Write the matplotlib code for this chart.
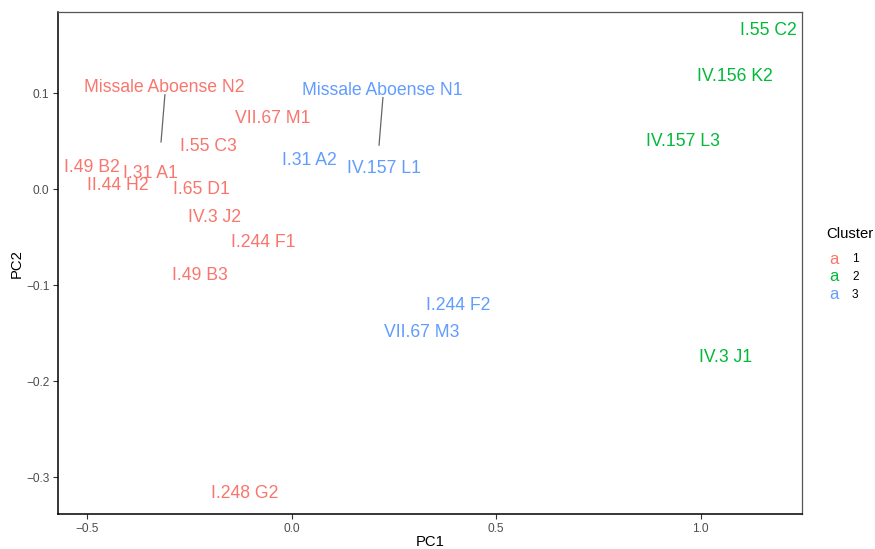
import matplotlib
matplotlib.use("Agg")
import matplotlib.pyplot as plt

# Sample labels, cluster, and (label) positions on PC1/PC2
labels = ["Missale Aboense N2", "VII.67 M1", "I.55 C3", "I.49 B2", "I.31 A1",
          "II.44 H2", "I.65 D1", "IV.3 J2", "I.244 F1", "I.49 B3", "I.248 G2",
          "Missale Aboense N1", "I.31 A2", "IV.157 L1", "I.244 F2", "VII.67 M3",
          "I.55 C2", "IV.156 K2", "IV.157 L3", "IV.3 J1"]
cluster = [1, 1, 1, 1, 1, 1, 1, 1, 1, 1, 1,
           3, 3, 3, 3, 3,
           2, 2, 2, 2]
pc1 = [-0.310, -0.047, -0.203, -0.488, -0.345, -0.425, -0.219, -0.188, -0.068, -0.225, -0.114,
       0.223, 0.0445, 0.227, 0.408, 0.318,
       1.166, 1.085, 0.958, 1.062]
pc2 = [0.108, 0.0756, 0.0472, 0.0246, 0.019, 0.0062, 0.0017, -0.0268, -0.0535, -0.088, -0.315,
       0.1055, 0.0323, 0.0235, -0.1187, -0.1466,
       0.1677, 0.120, 0.0514, -0.1726]
# repel segments: label -> original point
seg_labels = ["Missale Aboense N2", "Missale Aboense N1"]
seg_x0 = [-0.3095, 0.2235]
seg_y0 = [0.0985, 0.0955]
seg_x1 = [-0.319, 0.214]
seg_y1 = [0.0493, 0.046]

cluster_names = ["1", "2", "3"]
cluster_colors = {1: "#F8766D", 2: "#00BA38", 3: "#619CFF"}

xticks = [-0.5, 0.0, 0.5, 1.0]
yticks = [-0.3, -0.2, -0.1, 0.0, 0.1]

plt.rcParams["font.family"] = ["Liberation Sans", "DejaVu Sans"]

fig = plt.figure(figsize=(8.75, 5.49), dpi=100)
ax = fig.add_axes([0.0667, 0.0638, 0.917 - 0.0667, 0.9776 - 0.0638])

for lab, c, x, y in zip(labels, cluster, pc1, pc2):
    ax.text(x, y, lab, color=cluster_colors[c], fontsize=12.7,
            ha="center", va="center_baseline")

for xa, ya, xb, yb in zip(seg_x0, seg_y0, seg_x1, seg_y1):
    ax.plot([xa, xb], [ya, yb], color="#666666", lw=0.9)

ax.set_xlim(-0.570, 1.249)
ax.set_ylim(-0.3382, 0.1844)
ax.set_xticks(xticks)
ax.set_yticks(yticks)
ax.set_xticklabels([f"{t:.1f}".replace("-", "\u2212") for t in xticks])
ax.set_yticklabels([f"{t:.1f}".replace("-", "\u2212") for t in yticks])
ax.tick_params(axis="both", labelsize=8.6, labelcolor="#4D4D4D", color="#333333",
               length=3.5, width=0.8, pad=3)
ax.set_xlabel("PC1", fontsize=10.7, labelpad=0)
ax.set_ylabel("PC2", fontsize=10.7, labelpad=1.5)

for s in ["left", "bottom"]:
    ax.spines[s].set_color("black")
    ax.spines[s].set_linewidth(1.1)
for s in ["top", "right"]:
    ax.spines[s].set_color("#555555")
    ax.spines[s].set_linewidth(0.9)

# legend
fig.text(826 / 875, 1 - 234 / 549, "Cluster", fontsize=10.7, ha="left", va="center")
ly = [257.7, 275, 293]
for name, yy, c in zip(cluster_names, ly, [1, 2, 3]):
    fig.text(834 / 875, 1 - yy / 549, "a", color=cluster_colors[c], fontsize=12,
             ha="center", va="center_baseline")
    fig.text(852 / 875, 1 - yy / 549, name, fontsize=8.6, ha="left", va="center_baseline")

fig.savefig("out.png", dpi=100, facecolor="white")
